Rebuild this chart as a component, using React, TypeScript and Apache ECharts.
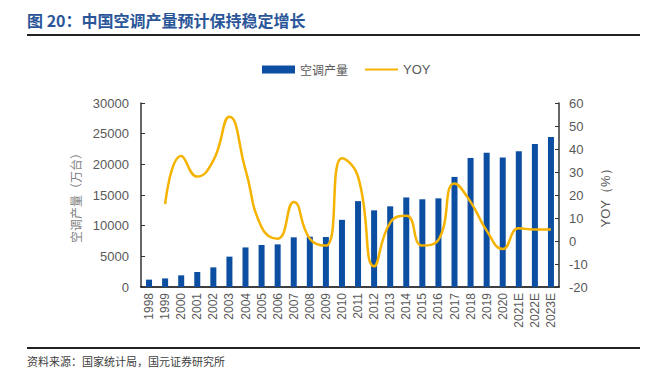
import React, { useEffect, useRef } from "react";
import * as echarts from "echarts";

const categories = ["1998","1999","2000","2001","2002","2003","2004","2005","2006","2007","2008","2009","2010","2011","2012","2013","2014","2015","2016","2017","2018","2019","2020","2021E","2022E","2023E"];
const production = [1200,1400,1900,2450,3200,4950,6450,6850,6950,8100,8200,8150,10950,14000,12500,13150,14600,14300,14450,17950,21050,21900,21100,22150,23300,24450];
const yoy = [null,16,37,28,35,54,31,6,1,17,1,-2,36,28,-11,8,11,-2,0.5,25,17,4.5,-3.5,5.5,5,5];
const leftTicks = { min: 0, max: 30000, interval: 5000 };
const rightTicks = { min: -20, max: 60, interval: 10 };

const title = "图 20：中国空调产量预计保持稳定增长";
const source = "资料来源：国家统计局，国元证券研究所";

export default function App() {
  const ref = useRef<HTMLDivElement>(null);
  useEffect(() => {
    if (!ref.current) return;
    const chart = echarts.init(ref.current, null, { renderer: "svg" });
    const labelColor = "#595959";
    const numFont = "'Liberation Sans', Arial, sans-serif";
    const cjkFont = "'Noto Sans CJK SC', sans-serif";
    chart.setOption({
      animation: false,
      backgroundColor: "#ffffff",
      graphic: [
        { type: "text", left: 27, top: 12, style: { text: title, fill: "#2a5699", font: `bold 16px ${cjkFont}` } },
        { type: "rect", shape: { x: 27, y: 34, width: 613, height: 2 }, style: { fill: "#222" } },
        { type: "rect", shape: { x: 27, y: 347, width: 613, height: 2 }, style: { fill: "#222" } },
        { type: "text", left: 27, top: 355, style: { text: source, fill: "#404040", font: `11px ${cjkFont}` } },
      ],
      legend: {
        left: 262,
        top: 63,
        padding: 0,
        itemGap: 16,
        itemWidth: 33,
        itemHeight: 8,
        textStyle: { color: labelColor, fontSize: 12, fontFamily: cjkFont },
        data: [
          { name: "空调产量", icon: "rect" },
          { name: "YOY", itemStyle: { opacity: 0 }, textStyle: { fontSize: 13, fontFamily: numFont } },
        ],
      },
      grid: { left: 141, right: 95, top: 103, bottom: 92 },
      xAxis: {
        type: "category",
        data: categories,
        axisLine: { lineStyle: { color: "#000", width: 1.5 } },
        axisTick: { inside: true, length: 4, lineStyle: { color: "#000" } },
        axisLabel: { rotate: 90, color: labelColor, fontSize: 12, fontFamily: numFont, margin: 6, interval: 0 },
      },
      yAxis: [
        {
          type: "value",
          ...leftTicks,
          name: "空调产量（万台）",
          nameLocation: "middle",
          nameGap: 48,
          nameTextStyle: { color: "#7f7f7f", fontSize: 12, fontFamily: cjkFont },
          axisLine: { show: true, lineStyle: { color: "#333", width: 1.5 } },
          axisTick: { show: true, inside: true, length: 4, lineStyle: { color: "#333" } },
          axisLabel: { color: labelColor, fontSize: 13, fontFamily: numFont, margin: 12, formatter: (v: number) => String(v) },
          splitLine: { show: false },
        },
        {
          type: "value",
          ...rightTicks,
          name: "YOY（%）",
          nameLocation: "middle",
          nameGap: 35,
          nameRotate: 90,
          nameTextStyle: { color: labelColor, fontSize: 13, fontFamily: numFont },
          axisLine: { show: true, lineStyle: { color: "#333", width: 1.5 } },
          axisTick: { show: true, inside: true, length: 4, lineStyle: { color: "#333" } },
          axisLabel: { color: labelColor, fontSize: 13, fontFamily: numFont, margin: 10 },
          splitLine: { show: false },
        },
      ],
      series: [
        {
          name: "空调产量",
          type: "bar",
          data: production,
          barWidth: 6,
          itemStyle: { color: "#0b4ea2" },
        },
        {
          name: "YOY",
          type: "line",
          yAxisIndex: 1,
          data: yoy,
          smooth: 0.5,
          showSymbol: false,
          symbol: "none",
          lineStyle: { color: "#f5b300", width: 2.5 },
          itemStyle: { color: "#f5b300" },
        },
      ],
    });
    return () => chart.dispose();
  }, []);
  return <div ref={ref} style={{ width: 654, height: 379, position: "absolute", left: 0, top: 0 }} />;
}
